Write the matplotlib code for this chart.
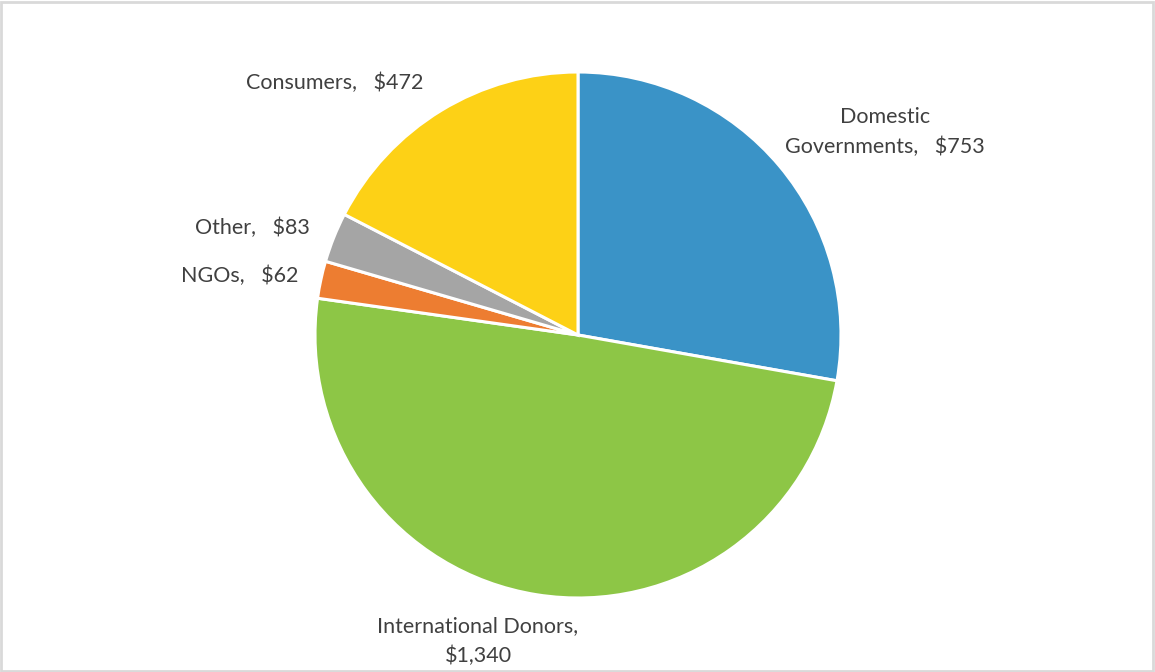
import matplotlib
matplotlib.use('Agg')
import matplotlib.pyplot as plt
from matplotlib.patches import Rectangle

# funding by source
names = ['Domestic\nGovernments', 'International Donors,\n', 'NGOs', 'Other', 'Consumers']
values = [753, 1340, 62, 83, 472]
colors = ['#3A93C7', '#8DC646', '#ED7D31', '#A5A5A5', '#FDD116']

fig = plt.figure(figsize=(11.55, 6.72), dpi=100)
ax = fig.add_axes([0, 0, 1, 1])

ax.pie(values, colors=colors, startangle=90, counterclock=False,
       center=(578, 337), radius=263, frame=True,
       wedgeprops=dict(edgecolor='white', linewidth=2.2))
ax.set_xlim(0, 1155)
ax.set_ylim(0, 672)
ax.set_aspect('equal')
ax.axis('off')

def fmt(v):
    return '${:,}'.format(v)

tc = '#404040'
fs = 15.5
fam = ['Lato', 'DejaVu Sans']
sp = '   '
ax.text(885, 540, 'Domestic\nGovernments,' + sp + fmt(values[0]), ha='center', va='center',
        fontsize=fs, color=tc, family=fam, linespacing=1.55)
ax.text(478, 31, 'International Donors,\n' + fmt(values[1]), ha='center', va='center',
        fontsize=fs, color=tc, family=fam, linespacing=1.55)
ax.text(298, 396, 'NGOs,' + sp + fmt(values[2]), ha='right', va='center',
        fontsize=fs, color=tc, family=fam)
ax.text(310, 444, 'Other,' + sp + fmt(values[3]), ha='right', va='center',
        fontsize=fs, color=tc, family=fam)
ax.text(335, 589, 'Consumers,' + sp + fmt(values[4]), ha='center', va='center',
        fontsize=fs, color=tc, family=fam)

fig.patches.append(Rectangle((0.001, 0.001), 0.997, 0.996, transform=fig.transFigure,
                             fill=False, edgecolor='#D9D9D9', linewidth=2))
fig.savefig('out.png', dpi=100, facecolor='white')
